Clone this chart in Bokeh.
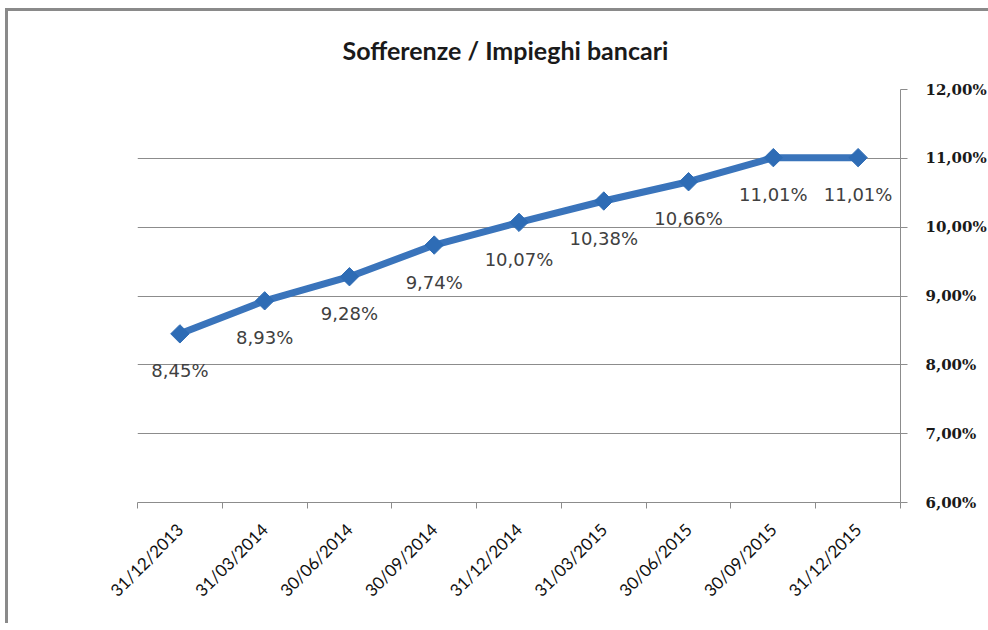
import math
from bokeh.plotting import figure
from bokeh.models import (ColumnDataSource, Range1d, FixedTicker, LabelSet)
from bokeh.core.properties import value
from bokeh.embed import file_html
from bokeh.resources import INLINE

# ---- data ----
categories = ["31/12/2013", "31/03/2014", "30/06/2014", "30/09/2014",
              "31/12/2014", "31/03/2015", "30/06/2015", "30/09/2015",
              "31/12/2015"]
ratio = [8.45, 8.93, 9.28, 9.74, 10.07, 10.38, 10.66, 11.01, 11.01]
y_ticks = [6, 7, 8, 9, 10, 11, 12]
y_tick_labels = ["6,00%", "7,00%", "8,00%", "9,00%", "10,00%", "11,00%", "12,00%"]
title_text = "Sofferenze / Impieghi bancari"

n = len(categories)
xpos = [i + 0.5 for i in range(n)]
labels = [("%.2f%%" % v).replace(".", ",") for v in ratio]
src = ColumnDataSource(dict(x=xpos, y=ratio, lab=labels))

W, H = 983, 615
p = figure(width=W, height=H, output_backend="svg", toolbar_location=None,
           x_range=Range1d(0, n), y_range=Range1d(6, 12),
           y_axis_location="right",
           min_border_left=129, min_border_right=91,
           min_border_top=78, min_border_bottom=124)
p.outline_line_color = None
p.background_fill_color = "white"
p.border_fill_color = "white"
p.styles = {"border-top": "3px solid #8a8a8a", "border-left": "3px solid #8a8a8a",
            "margin-top": "8px", "margin-left": "5px"}

# title
p.title.text = title_text
p.title.align = "left"
p.title.offset = 205
p.title.vertical_align = "top"
p.title.standoff = 46
p.title.text_font = "Lato"
p.title.text_font_style = "bold"
p.title.text_font_size = "25px"
p.title.text_color = "#1a1a1a"

# grid
p.xgrid.visible = False
p.ygrid.ticker = FixedTicker(ticks=y_ticks)
p.ygrid.grid_line_color = "#8c8c8c"
p.ygrid.grid_line_width = 1

# y axis (right)
ya = p.yaxis[0]
ya.ticker = FixedTicker(ticks=y_ticks)
ya.major_label_overrides = {t: l for t, l in zip(y_ticks, y_tick_labels)}
ya.axis_line_color = "#8c8c8c"
ya.major_tick_line_color = "#8c8c8c"
ya.major_tick_out = 7
ya.major_tick_in = 0
ya.minor_tick_line_color = None
ya.major_label_standoff = 18
ya.major_label_text_font = "DejaVu Serif"
ya.major_label_text_font_style = "bold"
ya.major_label_text_font_size = "15px"
ya.major_label_text_color = "#1a1a1a"

# x axis
xa = p.xaxis[0]
xa.ticker = FixedTicker(ticks=xpos, minor_ticks=list(range(n + 1)))
xa.major_label_overrides = {x: c for x, c in zip(xpos, categories)}
xa.axis_line_color = "#8c8c8c"
xa.major_tick_line_color = None
xa.minor_tick_line_color = "#8c8c8c"
xa.minor_tick_out = 6
xa.minor_tick_in = 0
xa.major_label_orientation = math.pi / 4
xa.major_label_standoff = 18
xa.major_label_text_font = "Lato"
xa.major_label_text_font_size = "17px"
xa.major_label_text_color = "#111111"

# line and markers
p.line("x", "y", source=src, line_color="#3a74bb", line_width=7)
p.scatter("x", "y", source=src, marker="square", size=13, angle=math.pi / 4,
          fill_color="#2e6cb5", line_color="#2e6cb5")

# data labels
p.add_layout(LabelSet(x="x", y="y", text="lab", source=src, y_offset=-37,
                      text_align="center", text_baseline="middle",
                      text_font=value("DejaVu Sans"), text_font_size="18px",
                      text_color="#404040"))

open("out.html", "w").write(file_html(p, INLINE))
